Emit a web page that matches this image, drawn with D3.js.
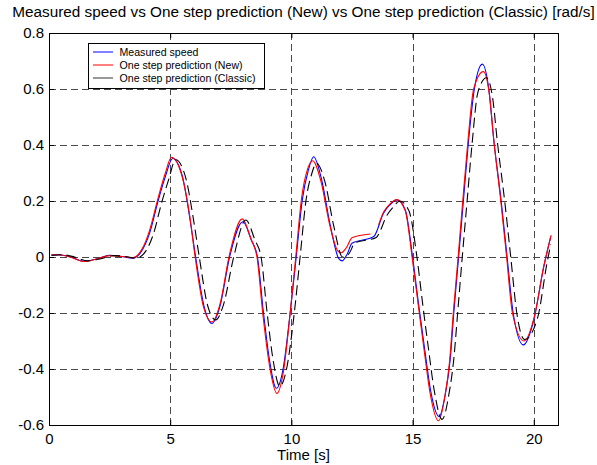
<!DOCTYPE html>
<html>
<head>
<meta charset="utf-8">
<script src="https://cdn.jsdelivr.net/npm/d3@7"></script>
<style>
	body { margin: 0; background: #fff; }
	text { font-family: "Liberation Sans", Arial, sans-serif; fill: #000; }
</style>
</head>
<body>
<script>
// values (time in s, speed in rad/s)
const timeMeasured = [0.1, 0.4, 0.9, 1.45, 2.0, 2.5, 3.0, 3.45, 3.85, 4.15, 4.5, 4.8, 5.1, 5.5, 5.8, 6.05, 6.4, 6.72, 7.05, 7.45, 8.0, 8.35, 8.6, 8.85, 9.1, 9.38, 9.65, 9.95, 10.2, 10.45, 10.7, 10.92, 11.25, 11.6, 11.95, 12.1, 12.3, 12.5, 13.4, 13.8, 14.05, 14.35, 14.7, 15.0, 15.25, 15.5, 15.75, 16.1, 16.35, 16.55, 16.7, 16.9, 17.1, 17.3, 17.55, 17.88, 18.15, 18.35, 18.65, 18.9, 19.15, 19.57, 20.0, 20.4, 20.7];
const speedMeasured = [0.006, 0.008, 0.0, -0.015, -0.006, 0.006, 0.002, -0.004, 0.025, 0.085, 0.2, 0.287, 0.352, 0.29, 0.144, 0.0, -0.177, -0.237, -0.177, 0.0, 0.126, 0.06, 0.0, -0.2, -0.37, -0.469, -0.404, -0.2, 0.0, 0.204, 0.31, 0.358, 0.275, 0.115, -0.005, -0.014, 0.01, 0.049, 0.073, 0.156, 0.185, 0.204, 0.168, 0.0, -0.17, -0.33, -0.48, -0.57, -0.49, -0.368, -0.2, 0.0, 0.204, 0.406, 0.6, 0.689, 0.596, 0.418, 0.204, 0.0, -0.2, -0.314, -0.225, -0.04, 0.073];

// "new" predictor, with a short gap around 13.4 s
const timeNew = [0.1, 0.4, 0.9, 1.45, 2.0, 2.5, 3.0, 3.45, 3.85, 4.15, 4.5, 4.8, 5.05, 5.45, 5.8, 6.03, 6.38, 6.72, 7.05, 7.45, 7.97, 8.33, 8.58, 8.83, 9.1, 9.4, 9.67, 9.95, 10.18, 10.42, 10.67, 10.88, 11.22, 11.58, 11.93, 12.05, 12.28, 12.5, 13.26, 13.4, 13.6, 13.8, 14.05, 14.35, 14.7, 14.98, 15.24, 15.48, 15.73, 16.07, 16.33, 16.53, 16.68, 16.88, 17.08, 17.28, 17.52, 17.92, 18.17, 18.36, 18.64, 18.88, 19.12, 19.6, 20.02, 20.42, 20.72];
const speedNew = [0.008, 0.008, -0.001, -0.016, -0.006, 0.005, 0.002, -0.003, 0.03, 0.095, 0.21, 0.3, 0.356, 0.3, 0.15, 0.0, -0.18, -0.232, -0.17, 0.01, 0.136, 0.065, 0.0, -0.21, -0.39, -0.487, -0.41, -0.2, 0.0, 0.21, 0.315, 0.344, 0.27, 0.115, 0.02, 0.015, 0.035, 0.069, 0.082, null, 0.115, 0.16, 0.188, 0.205, 0.165, 0.0, -0.175, -0.335, -0.49, -0.585, -0.5, -0.37, -0.2, 0.0, 0.21, 0.41, 0.6, 0.662, 0.58, 0.41, 0.2, 0.0, -0.2, -0.3, -0.215, -0.03, 0.078];

// "classic" predictor lags the measurement a little
const timeClassic = [0.1, 0.55, 1.05, 1.6, 2.15, 2.65, 3.15, 3.6, 4.0, 4.3, 4.65, 4.95, 5.22, 5.65, 5.95, 6.2, 6.55, 6.88, 7.2, 7.62, 8.12, 8.5, 8.75, 9.0, 9.25, 9.52, 9.8, 10.12, 10.36, 10.6, 10.85, 11.03, 11.38, 11.75, 12.1, 12.22, 12.4, 12.62, 13.5, 13.95, 14.2, 14.47, 14.85, 15.18, 15.42, 15.66, 15.9, 16.22, 16.5, 16.7, 16.86, 17.05, 17.25, 17.45, 17.7, 18.05, 18.3, 18.5, 18.8, 19.05, 19.3, 19.62, 20.15, 20.55, 20.7];
const speedClassic = [0.006, 0.008, 0.0, -0.014, -0.006, 0.005, 0.002, -0.004, 0.022, 0.08, 0.195, 0.28, 0.348, 0.28, 0.14, 0.0, -0.175, -0.225, -0.17, 0.0, 0.132, 0.06, 0.0, -0.2, -0.37, -0.462, -0.4, -0.2, 0.0, 0.2, 0.3, 0.335, 0.27, 0.11, 0.0, -0.002, 0.015, 0.05, 0.07, 0.15, 0.178, 0.2, 0.165, 0.0, -0.17, -0.33, -0.48, -0.58, -0.49, -0.365, -0.2, 0.0, 0.2, 0.4, 0.59, 0.64, 0.57, 0.41, 0.2, 0.0, -0.2, -0.295, -0.22, -0.02, 0.045];

const seriesNames = ["Measured speed", "One step prediction (New)", "One step prediction (Classic)"];
const xTicks = [0, 5, 10, 15, 20];
const yTicks = [0.8, 0.6, 0.4, 0.2, 0, -0.2, -0.4, -0.6];
const yTickLabels = ["0.8", "0.6", "0.4", "0.2", "0", "-0.2", "-0.4", "-0.6"];

// SVG size
let width = 597,
	height = 465;

// margin convention
let margin = {top: 33, right: 39, left: 49, bottom: 40};
let w = width - margin.left - margin.right,
	h = height - margin.top - margin.bottom;

let svg = d3.select("body").append("svg")
	.attr("width", width)
	.attr("height", height);

let g = svg.append("g")
	.attr("transform", "translate(" + margin.left + "," + margin.top + ")");

const x = d3.scaleLinear().domain([0, 21]).range([0, w]);
const y = d3.scaleLinear().domain([-0.6, 0.8]).range([h, 0]);

// crisp 1px lines
const px = function(v) { return Math.round(v) + 0.5; };

// title, centred over the axes
svg.append("text")
	.attr("x", margin.left + w / 2)
	.attr("y", 17)
	.attr("text-anchor", "middle")
	.style("font-size", "15.3px")
	.text("Measured speed vs One step prediction (New) vs One step prediction (Classic) [rad/s]");

// dashed grid
let grid = g.append("g").attr("class", "grid")
	.attr("stroke", "#4a4a4a")
	.attr("stroke-width", 1)
	.attr("stroke-dasharray", "7,4");

grid.selectAll("line.v")
	.data(xTicks.filter(function(d) { return d > 0; }))
	.enter().append("line")
	.attr("class", "v")
	.attr("x1", function(d) { return px(x(d)); })
	.attr("x2", function(d) { return px(x(d)); })
	.attr("y1", 0)
	.attr("y2", h);

grid.selectAll("line.h")
	.data(yTicks.filter(function(d) { return d < 0.8 && d > -0.6; }))
	.enter().append("line")
	.attr("class", "h")
	.attr("x1", 0)
	.attr("x2", w)
	.attr("y1", function(d) { return px(y(d)); })
	.attr("y2", function(d) { return px(y(d)); });

// clip the curves to the plot box
svg.append("clipPath").attr("id", "plot-clip")
	.append("rect").attr("width", w).attr("height", h);

const line = d3.line()
	.defined(function(d) { return d[1] !== null; })
	.x(function(d) { return x(d[0]); })
	.y(function(d) { return y(d[1]); })
	.curve(d3.curveMonotoneX);

let series = [
	{name: seriesNames[0], t: timeMeasured, v: speedMeasured, color: "#0000ff", dash: null},
	{name: seriesNames[1], t: timeNew, v: speedNew, color: "#ff0000", dash: null},
	{name: seriesNames[2], t: timeClassic, v: speedClassic, color: "#000000", dash: "10,5"}
];

g.append("g").attr("clip-path", "url(#plot-clip)")
	.selectAll("path")
	.data(series)
	.enter().append("path")
	.attr("fill", "none")
	.attr("stroke", function(d) { return d.color; })
	.attr("stroke-width", 1.1)
	.attr("stroke-dasharray", function(d) { return d.dash; })
	.attr("d", function(d) { return line(d3.zip(d.t, d.v)); });

// axes: inward ticks on all four sides, like the original
let xAxisBottom = d3.axisBottom(x).tickValues(xTicks).tickSizeInner(-5).tickSizeOuter(0).tickPadding(8);
let xAxisTop = d3.axisTop(x).tickValues(xTicks).tickSizeInner(-5).tickSizeOuter(0).tickFormat("");
let yAxisLeft = d3.axisLeft(y).tickValues(yTicks).tickSizeInner(-5).tickSizeOuter(0).tickPadding(5)
	.tickFormat(function(d, i) { return yTickLabels[i]; });
let yAxisRight = d3.axisRight(y).tickValues(yTicks).tickSizeInner(-5).tickSizeOuter(0).tickFormat("");

g.append("g").attr("class", "axis").attr("transform", "translate(0," + h + ")").call(xAxisBottom);
g.append("g").attr("class", "axis").call(xAxisTop);
g.append("g").attr("class", "axis").call(yAxisLeft);
g.append("g").attr("class", "axis").attr("transform", "translate(" + w + ",0)").call(yAxisRight);

g.selectAll(".axis text")
	.style("font-size", "15px")
	.style("font-family", "'Liberation Sans', Arial, sans-serif");
g.selectAll(".axis path, .axis line").attr("stroke", "#000");

// plot box
g.append("rect")
	.attr("x", 0.5).attr("y", 0.5)
	.attr("width", w).attr("height", h)
	.attr("fill", "none")
	.attr("stroke", "#000");

// x-axis label
svg.append("text")
	.attr("x", margin.left + w / 2)
	.attr("y", 460)
	.attr("text-anchor", "middle")
	.style("font-size", "15px")
	.text("Time [s]");

// legend box
let legend = svg.append("g").attr("class", "legend");
legend.append("rect")
	.attr("x", 88.5).attr("y", 43.5)
	.attr("width", 176).attr("height", 45)
	.attr("fill", "#fff")
	.attr("stroke", "#000");

let entries = legend.selectAll("g.entry")
	.data(series)
	.enter().append("g")
	.attr("class", "entry")
	.attr("transform", function(d, i) { return "translate(93," + (52 + i * 13) + ")"; });

entries.append("line")
	.attr("x1", 0).attr("x2", 20)
	.attr("stroke", function(d, i) { return i == 2 ? "#333" : d.color; });

entries.append("text")
	.attr("x", 26.5)
	.attr("y", 4)
	.style("font-size", "10.6px")
	.text(function(d) { return d.name; });
</script>
</body>
</html>
